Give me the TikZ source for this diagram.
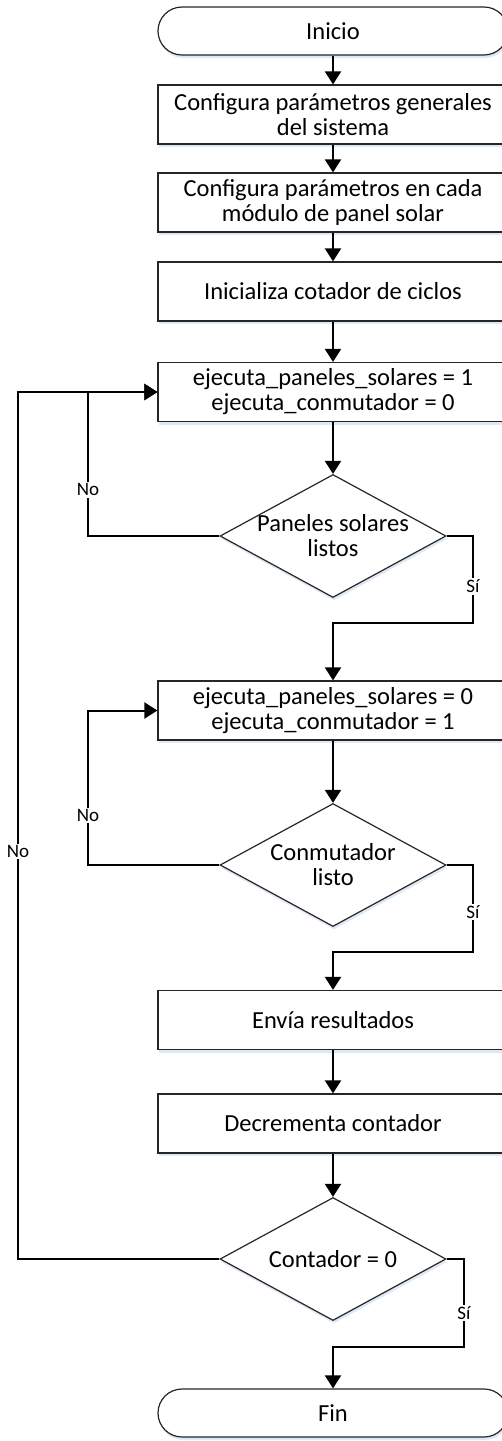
\documentclass[tikz,border=0pt]{standalone}
\usepackage{fontspec}
\setmainfont{Carlito}
\usetikzlibrary{shapes.geometric,arrows.meta,shadows}
\definecolor{haze}{RGB}{214,228,244}
\begin{document}
\begin{tikzpicture}[x=1pt,y=-1pt,
  every node/.style={font=\fontsize{24.5}{25}\selectfont},
  softshadow/.style={drop shadow={fill=haze, shadow xshift=1pt, shadow yshift=-3pt, opacity=0.8}},
  procbox/.style={draw=black!85, line width=1.2pt, fill=white, minimum width=350pt,
    minimum height=59pt, inner sep=0pt, align=center, softshadow},
  term/.style={procbox, rounded corners=24pt, minimum height=48pt},
  dec/.style={draw=black!85, line width=1.2pt, diamond, fill=white, minimum width=226pt,
    minimum height=123pt, inner sep=0pt, softshadow},
  dectext/.style={align=center, inner sep=0pt},
  flow/.style={line width=2pt, -{Triangle[length=13pt,width=16pt]}},
  lbl/.style={font=\fontsize{19}{20}\selectfont, fill=white, inner sep=1.5pt}]

\useasboundingbox (0,0) rectangle (501,1441);

% main column
\node[term]    (ini) at (333,31)    {Inicio};
\node[procbox] (b1)  at (333,114.5) {Configura parámetros generales\\del sistema};
\node[procbox] (b2)  at (333,202.5) {Configura parámetros en cada\\módulo de panel solar};
\node[procbox] (b3)  at (333,291.5) {Inicializa cotador de ciclos};
\node[procbox] (b4)  at (333,392)   {ejecuta\_paneles\_solares = 1\\ejecuta\_conmutador = 0};
\node[dec]     (d1)  at (333,536)   {};
\node[dectext] (d1t) at (d1.center) {Paneles solares\\listos};
\node[procbox] (b5)  at (333,710.5) {ejecuta\_paneles\_solares = 0\\ejecuta\_conmutador = 1};
\node[dec]     (d2)  at (333,865)   {};
\node[dectext] (d2t) at (d2.center) {Conmutador\\listo};
\node[procbox] (b6)  at (333,1020)  {Envía resultados};
\node[procbox] (b7)  at (333,1123.5){Decrementa contador};
\node[dec]     (d3)  at (333,1259)  {};
\node[dectext] (d3t) at (d3.center) {Contador = 0};
\node[term]    (fin) at (333,1413)  {Fin};

% straight connectors
\draw[flow] (ini.south) -- (b1.north);
\draw[flow] (b1.south) -- (b2.north);
\draw[flow] (b2.south) -- (b3.north);
\draw[flow] (b3.south) -- (b4.north);
\draw[flow] (b4.south) -- (d1.north);
\draw[flow] (b5.south) -- (d2.north);
\draw[flow] (b6.south) -- (b7.north);
\draw[flow] (b7.south) -- (d3.north);

% "Sí" branches
\draw[flow] (d1.east) -- (473,536) -- node[lbl,pos=0.58] {Sí} (473,623) -- (333,623) -- (b5.north);
\draw[flow] (d2.east) -- (473,865) -- node[lbl,pos=0.54] {Sí} (473,952) -- (333,952) -- (b6.north);
\draw[flow] (d3.east) -- (464,1259) -- node[lbl,pos=0.61] {Sí} (464,1347) -- (333,1347) -- (fin.north);

% "No" loops
\draw[flow] (d1.west) -- (88,536) -- node[lbl,pos=0.32] {No} (88,392) -- (b4.west);
\draw[flow] (d2.west) -- (88,865) -- node[lbl,pos=0.32] {No} (88,710.5) -- (b5.west);
\draw[flow] (d3.west) -- (18,1259) -- node[lbl,pos=0.47] {No} (18,392) -- (b4.west);
\end{tikzpicture}
\end{document}
